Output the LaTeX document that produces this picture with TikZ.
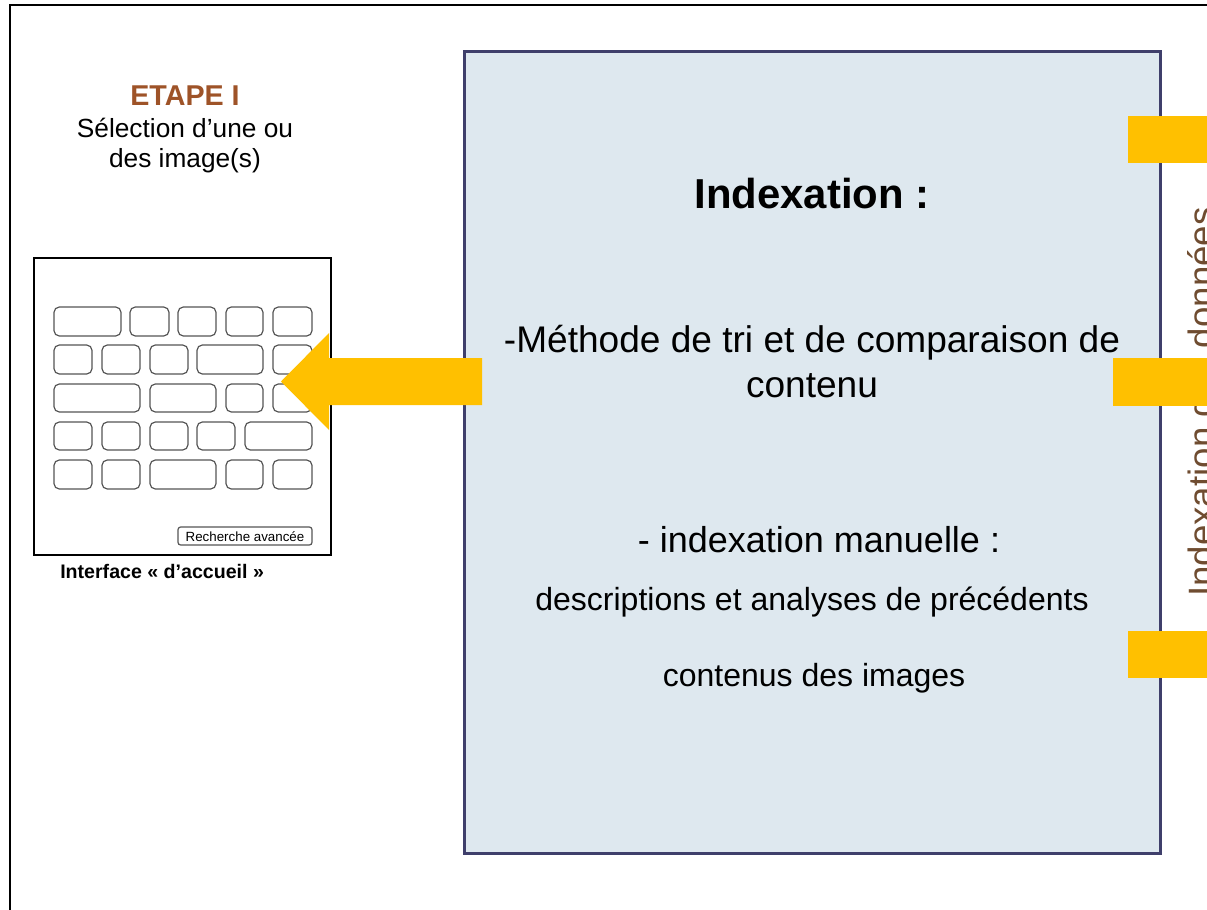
\documentclass[tikz,border=0pt]{standalone}
\usepackage{fontspec}
\setmainfont{Liberation Sans}
\definecolor{boxfill}{HTML}{DEE8EF}
\definecolor{boxline}{HTML}{3F3F6B}
\definecolor{gold}{HTML}{FFC000}
\definecolor{siennatxt}{HTML}{9E5328}
\definecolor{browntxt}{HTML}{6F4C30}
\definecolor{keygray}{HTML}{555555}
\newcommand{\pxfont}[1]{\fontsize{#1}{#1}\selectfont}
\begin{document}
\begin{tikzpicture}[x=0.75pt,y=-0.75pt,
  txt/.style={inner sep=0pt, anchor=base},
  keybox/.style={draw=keygray, line width=0.9pt, rounded corners=4pt},
  goldbar/.style={fill=gold, draw=none}]
\useasboundingbox (0,0) rectangle (1207,910);
% outer frame
\draw[line width=1.5pt] (10,910) -- (10,5) -- (1207,5);
% main box
\draw[fill=boxfill, draw=boxline, line width=2.25pt] (464,51) rectangle (1160,853);
% rotated label
\node[inner sep=0pt, rotate=90, anchor=base west, text=browntxt] (vt) at (1214,597) {\pxfont{27.5}Indexation des données};
% right bars
\fill[goldbar] (1128,116) rectangle (1207,163);
\fill[goldbar] (1113,358) rectangle (1207,406);
\fill[goldbar] (1128,631) rectangle (1207,678);
% interface
\draw[line width=1.5pt] (34,258) rectangle (331,555);
\foreach \a/\b in {54/121,130/169,178/216,226/263,273/312} \draw[keybox] (\a,307) rectangle (\b,336);
\foreach \a/\b in {54/92,102/140,150/188,197/263,273/312} \draw[keybox] (\a,345) rectangle (\b,374);
\foreach \a/\b in {54/140,150/216,226/263,273/312} \draw[keybox] (\a,384) rectangle (\b,412);
\foreach \a/\b in {54/92,102/140,150/188,197/235,245/312} \draw[keybox] (\a,422) rectangle (\b,450);
\foreach \a/\b in {54/92,102/140,150/216,226/263,273/312} \draw[keybox] (\a,460) rectangle (\b,489);
\draw[draw=keygray, line width=0.9pt, rounded corners=2pt] (178,527) rectangle (312,545);
\node[inner sep=0pt] (btn) at (245,537) {\pxfont{10}Recherche avancée};
% arrow
\fill[gold] (482,358) -- (329,358) -- (329,333) -- (281,381.5) -- (329,430) -- (329,405) -- (482,405) -- cycle;
% left texts
\node[txt, text=siennatxt] (etape) at (185,105) {\pxfont{21.5}\bfseries ETAPE I};
\node[txt] (sel1) at (185,137) {\pxfont{19.7}Sélection d’une ou};
\node[txt] (sel2) at (185,167) {\pxfont{19.7}des image(s)};
\node[txt, anchor=base west] (iface) at (60,578) {\pxfont{14.7}\bfseries Interface « d’accueil »};
% main texts
\node[txt] (title) at (812,208) {\pxfont{31.4}\bfseries Indexation :};
\node[txt] (m1) at (812,352) {\pxfont{27.8}-Méthode de tri et de comparaison de};
\node[txt] (m2) at (812,397) {\pxfont{27.8}contenu};
\node[txt] (m3) at (819,552) {\pxfont{27}- indexation manuelle :};
\node[txt] (m4) at (812,610) {\pxfont{24}descriptions et analyses de précédents};
\node[txt] (m5) at (814,686) {\pxfont{24}contenus des images};
\end{tikzpicture}
\end{document}
